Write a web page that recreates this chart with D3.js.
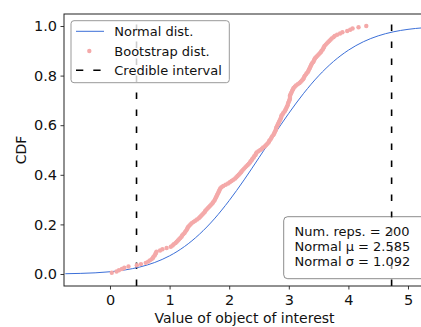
<!DOCTYPE html>
<html>
<head>
<meta charset="utf-8">
<script src="https://cdn.jsdelivr.net/npm/d3@7"></script>
<style>
  html, body { margin: 0; padding: 0; background: #fff; }
  svg { display: block; font-family: "DejaVu Sans", sans-serif; }
</style>
</head>
<body>
<svg id="chart" width="421" height="327"></svg>
<script>
// ---- data ----
// Bootstrap distribution: 200 sorted replicate values (CDF step = 1/200)
const bootstrapValues = [
  0.03, 0.11, 0.15, 0.20, 0.24, 0.31, 0.45, 0.52, 0.60, 0.64,
  0.67, 0.70, 0.72, 0.73, 0.75, 0.76, 0.77, 0.78, 0.84, 0.88,
  0.95, 1.02, 1.05, 1.07, 1.10, 1.12, 1.14, 1.16, 1.18, 1.20,
  1.21, 1.23, 1.25, 1.26, 1.28, 1.29, 1.30, 1.31, 1.33, 1.35,
  1.37, 1.40, 1.43, 1.46, 1.49, 1.51, 1.53, 1.55, 1.57, 1.59,
  1.60, 1.62, 1.64, 1.66, 1.68, 1.70, 1.72, 1.73, 1.75, 1.76,
  1.77, 1.78, 1.79, 1.80, 1.81, 1.82, 1.83, 1.84, 1.85, 1.87,
  1.90, 1.94, 1.98, 2.01, 2.04, 2.07, 2.10, 2.12, 2.14, 2.16,
  2.18, 2.20, 2.21, 2.23, 2.25, 2.27, 2.29, 2.31, 2.33, 2.35,
  2.36, 2.38, 2.39, 2.41, 2.42, 2.44, 2.45, 2.46, 2.49, 2.52,
  2.55, 2.57, 2.60, 2.62, 2.64, 2.66, 2.67, 2.68, 2.70, 2.71,
  2.72, 2.74, 2.75, 2.76, 2.77, 2.78, 2.785, 2.79, 2.80, 2.81,
  2.82, 2.83, 2.84, 2.85, 2.86, 2.87, 2.875, 2.88, 2.90, 2.91,
  2.93, 2.94, 2.95, 2.96, 2.97, 2.98, 2.985, 2.99, 3.00, 3.01,
  3.015, 3.02, 3.02, 3.02, 3.03, 3.04, 3.05, 3.06, 3.07, 3.08,
  3.10, 3.12, 3.15, 3.18, 3.20, 3.22, 3.24, 3.25, 3.26, 3.27,
  3.29, 3.30, 3.32, 3.33, 3.34, 3.35, 3.36, 3.37, 3.38, 3.39,
  3.41, 3.42, 3.43, 3.44, 3.46, 3.48, 3.50, 3.52, 3.54, 3.55,
  3.57, 3.58, 3.59, 3.60, 3.62, 3.64, 3.66, 3.68, 3.70, 3.72,
  3.75, 3.77, 3.81, 3.86, 3.90, 3.98, 4.03, 4.07, 4.17, 4.30
];
// Normal distribution CDF curve (x, CDF)
const normalX = [-0.75, -0.5, -0.25, 0, 0.25, 0.5, 0.75, 1.0, 1.25, 1.5, 1.75, 2.0, 2.25,
                 2.5, 2.75, 3.0, 3.25, 3.5, 3.75, 4.0, 4.25, 4.5, 4.75, 5.0, 5.25, 5.5];
const normalY = [0.0011, 0.0024, 0.0047, 0.0090, 0.0163, 0.0281, 0.0464, 0.0733, 0.1107,
                 0.1602, 0.2221, 0.2961, 0.3795, 0.4690, 0.5600, 0.6480, 0.7287, 0.7990,
                 0.8570, 0.9025, 0.9364, 0.9603, 0.9763, 0.9865, 0.9927, 0.9962];
const credibleInterval = [0.445, 4.725];
const xTicks = [0, 1, 2, 3, 4, 5];
const yTicks = [0.0, 0.2, 0.4, 0.6, 0.8, 1.0];
const legendLabels = ["Normal dist.", "Bootstrap dist.", "Credible interval"];
const statsLines = ["Num. reps. = 200", "Normal \u03bc = 2.585", "Normal \u03c3 = 1.092"];
const xLabel = "Value of object of interest";
const yLabel = "CDF";

// ---- layout ----
const svg = d3.select("#chart");
const L = 64, T = 14, B = 286, R = 427;
const x = d3.scaleLinear().domain([-0.7718, 5.3188]).range([L, R]);
const y = d3.scaleLinear().domain([-0.0484, 1.0484]).range([B, T]);

const blue = "#3b6fd8";
const pink = "#f4a9a9";

svg.append("defs").append("clipPath").attr("id", "clip")
  .append("rect").attr("x", L).attr("y", T).attr("width", R - L).attr("height", B - T);

const plot = svg.append("g").attr("clip-path", "url(#clip)");

// credible interval lines
plot.selectAll("line.ci").data(credibleInterval).enter().append("line")
  .attr("class", "ci")
  .attr("x1", d => x(d)).attr("x2", d => x(d))
  .attr("y1", B).attr("y2", T)
  .attr("stroke", "#000").attr("stroke-width", 1.6)
  .attr("stroke-dasharray", "6.5,10.5");

// normal curve
const normalPts = normalX.map((v, i) => [v, normalY[i]]);
plot.append("path").datum(normalPts)
  .attr("fill", "none").attr("stroke", blue).attr("stroke-width", 1)
  .attr("d", d3.line().x(d => x(d[0])).y(d => y(d[1])).curve(d3.curveMonotoneX));

// bootstrap points
const n = bootstrapValues.length;
plot.selectAll("circle.bs").data(bootstrapValues).enter().append("circle")
  .attr("class", "bs")
  .attr("cx", d => x(d))
  .attr("cy", (d, i) => y((i + 1) / n))
  .attr("r", 2.2)
  .attr("fill", pink);

// axes
const xAxis = d3.axisBottom(x).tickValues(xTicks).tickFormat(d3.format("d"))
  .tickSize(3.5).tickPadding(5);
const gx = svg.append("g").attr("transform", `translate(0,${B})`).call(xAxis);
const yAxis = d3.axisLeft(y).tickValues(yTicks).tickFormat(d3.format(".1f"))
  .tickSize(3.5).tickPadding(3.5);
const gy = svg.append("g").attr("transform", `translate(${L},0)`).call(yAxis);
[gx, gy].forEach(g => {
  g.select(".domain").remove();
  g.selectAll(".tick line").attr("stroke", "#222").attr("stroke-width", 0.9);
  g.selectAll(".tick text").attr("fill", "#111").attr("font-size", "14.5px")
    .attr("font-family", "DejaVu Sans, sans-serif");
});

// spines
svg.append("rect").attr("x", L).attr("y", T).attr("width", R - L).attr("height", B - T)
  .attr("fill", "none").attr("stroke", "#222").attr("stroke-width", 1);

// axis labels
svg.append("text").attr("x", (L + R) / 2 - 1).attr("y", 323)
  .attr("text-anchor", "middle").attr("font-size", "14px").attr("fill", "#111").text(xLabel);
svg.append("text").attr("transform", `translate(26,${(T + B) / 2}) rotate(-90)`)
  .attr("text-anchor", "middle").attr("font-size", "14px").attr("fill", "#111").text(yLabel);

// legend
const lg = svg.append("g");
lg.append("rect").attr("x", 71).attr("y", 20.7).attr("width", 158.3).attr("height", 62)
  .attr("rx", 3).attr("fill", "#fff").attr("fill-opacity", 0.8)
  .attr("stroke", "#999").attr("stroke-width", 1);
const rowY = [31.3, 51, 70.3];
lg.append("line").attr("x1", 76).attr("x2", 104).attr("y1", rowY[0]).attr("y2", rowY[0])
  .attr("stroke", blue).attr("stroke-width", 1);
lg.append("circle").attr("cx", 89.3).attr("cy", rowY[1]).attr("r", 2.2).attr("fill", pink);
lg.append("line").attr("x1", 76).attr("x2", 104).attr("y1", rowY[2]).attr("y2", rowY[2])
  .attr("stroke", "#000").attr("stroke-width", 1.6).attr("stroke-dasharray", "7.3,10");
lg.selectAll("text").data(legendLabels).enter().append("text")
  .attr("x", 114.3).attr("y", (d, i) => rowY[i]).attr("dy", "0.36em")
  .attr("font-size", "13px").attr("fill", "#111").text(d => d);

// stats box
const sb = svg.append("g");
sb.append("rect").attr("x", 283.7).attr("y", 216.7).attr("width", 142).attr("height", 62)
  .attr("rx", 4).attr("fill", "#fff").attr("fill-opacity", 0.6)
  .attr("stroke", "#000").attr("stroke-opacity", 0.45).attr("stroke-width", 1);
sb.selectAll("text").data(statsLines).enter().append("text")
  .attr("x", 294.5).attr("y", (d, i) => 231.7 + 15 * i).attr("dy", "0.36em")
  .attr("font-size", "13px").attr("fill", "#111").text(d => d);
</script>
</body>
</html>
